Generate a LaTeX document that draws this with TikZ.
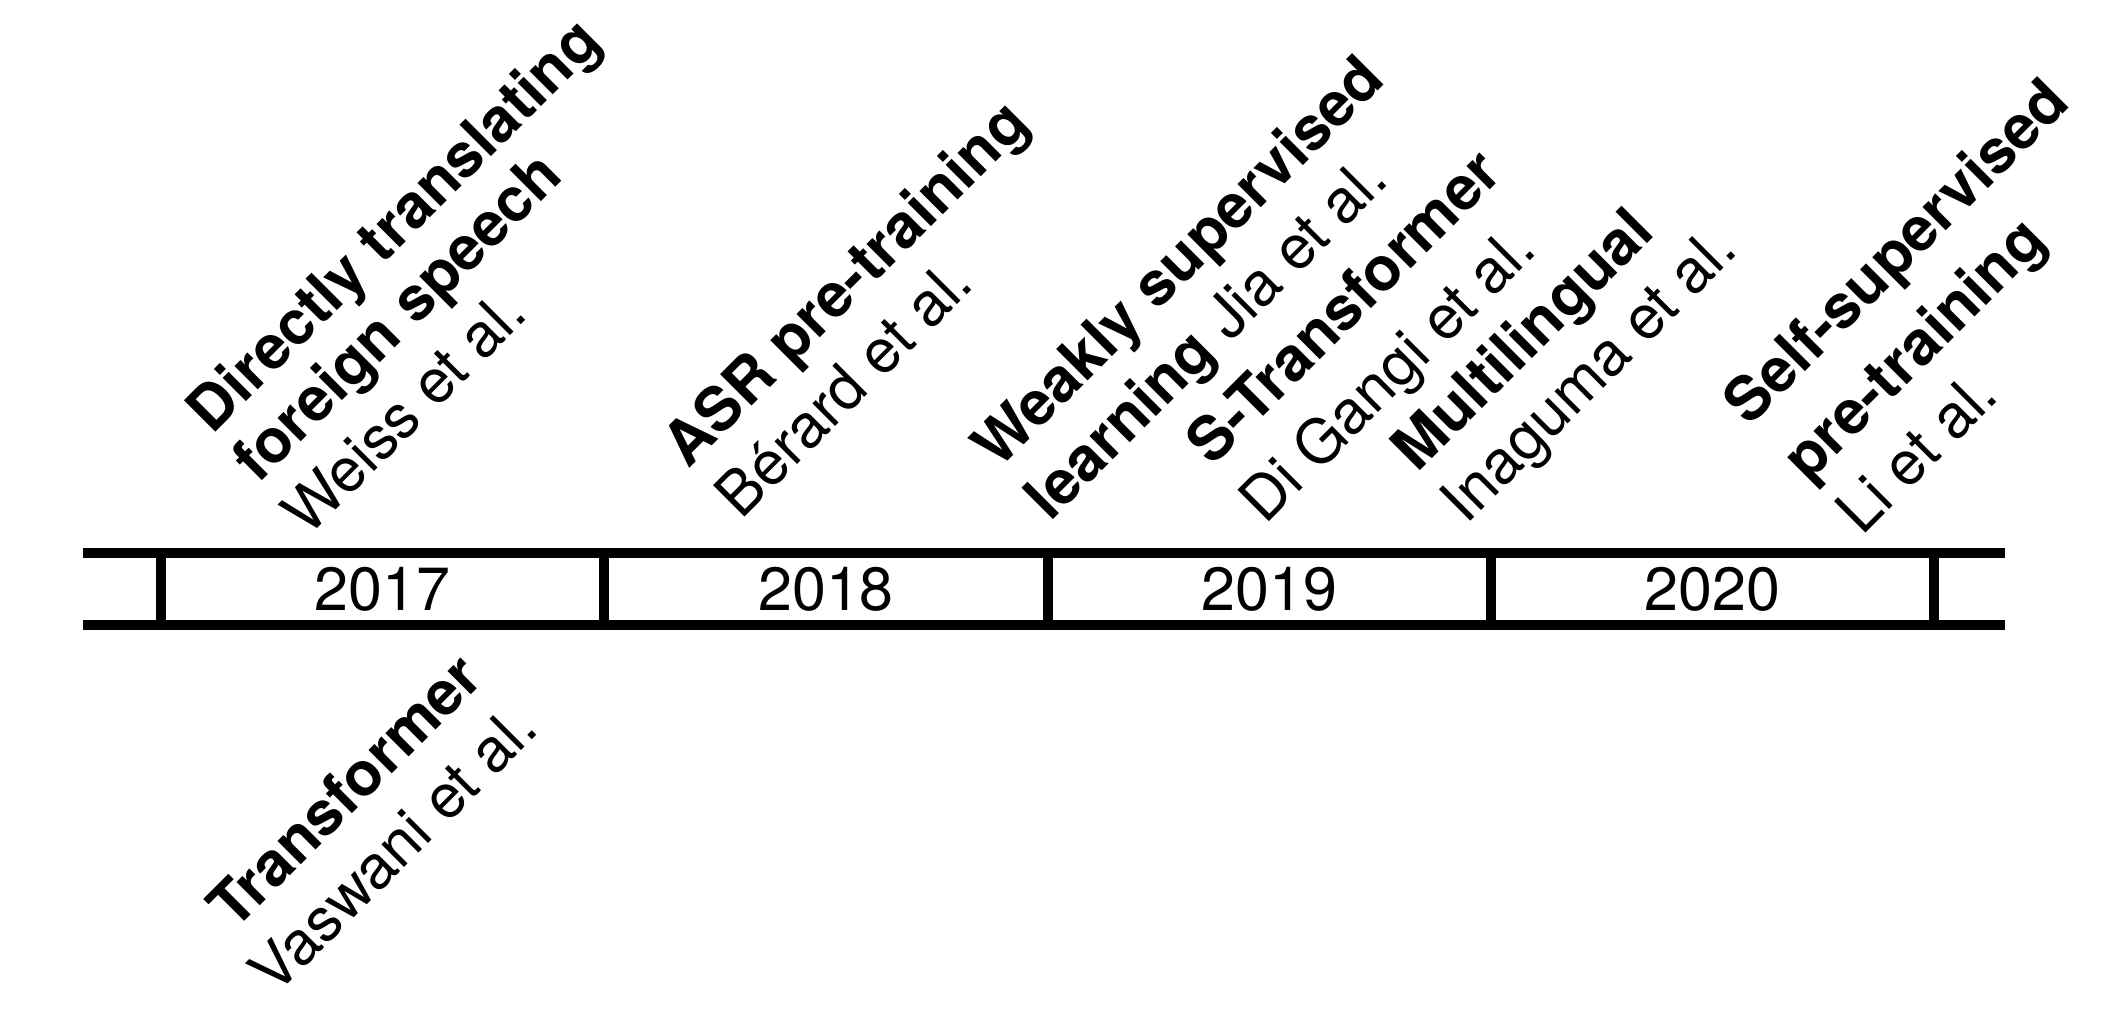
\documentclass[tikz,border=0pt]{standalone}
\usepackage{fontspec}
\setmainfont{TeX Gyre Heros}
\begin{document}
\tikzset{
  lbl/.style={rotate=45, anchor=base west, inner sep=0pt, font=\fontsize{30.5}{36.5}\selectfont},
  yr/.style={inner sep=0pt, font=\fontsize{30.5}{36.5}\selectfont},
  rail/.style={line width=5pt, line cap=butt},
}
\begin{tikzpicture}[x=0.5pt,y=-0.5pt]
\useasboundingbox (0,0) rectangle (2106,1016);
% rails
\coordinate (tl) at (83,553);
\coordinate (tr) at (2005,553);
\coordinate (bl) at (83,625);
\coordinate (br) at (2005,625);
\draw[rail] (tl) -- (tr);
\draw[rail] (bl) -- (br);
% ticks
\foreach \i/\x in {a/161,b/604,c/1048,d/1491,e/1934}{
  \coordinate (t\i) at (\x,553);
  \coordinate (b\i) at (\x,625);
  \draw[rail] (t\i) -- (b\i);
}
% years
\node[yr] (y2017) at (382.5,589) {2017};
\node[yr] (y2018) at (826,589) {2018};
\node[yr] (y2019) at (1269.5,589) {2019};
\node[yr] (y2020) at (1712.5,589) {2020};
% label 1
\node[lbl] (l1a) at (212,436) {\bfseries Directly translating};
\node[lbl] (l1b) at (258,485) {\bfseries foreign speech};
\node[lbl] (l1c) at (308,538) {Weiss et al.};
% label 2
\node[lbl] (l2a) at (688,470) {\bfseries ASR pre-training};
\node[lbl] (l2b) at (741,521) {Bérard et al.};
% label 3
\node[lbl] (l3a) at (998,471) {\bfseries Weakly supervised};
\node[lbl] (l3b) at (1050,523) {\textbf{learning} Jia et al.};
% label 4
\node[lbl] (l4a) at (1212,468) {\bfseries S-Transformer};
\node[lbl] (l4b) at (1265,526) {Di Gangi et al.};
% label 5
\node[lbl] (l5a) at (1417,474) {\bfseries Multilingual};
\node[lbl] (l5b) at (1466,526) {Inaguma et al.};
% label 6
\node[lbl] (l6a) at (1749,428) {\bfseries Self-supervised};
\node[lbl] (l6b) at (1808,484) {\bfseries pre-training};
\node[lbl] (l6c) at (1862,537) {Li et al.};
% label 7 (below)
\node[lbl] (l7a) at (234,932) {\bfseries Transformer};
\node[lbl] (l7b) at (275,997) {Vaswani et al.};
\end{tikzpicture}
\end{document}
